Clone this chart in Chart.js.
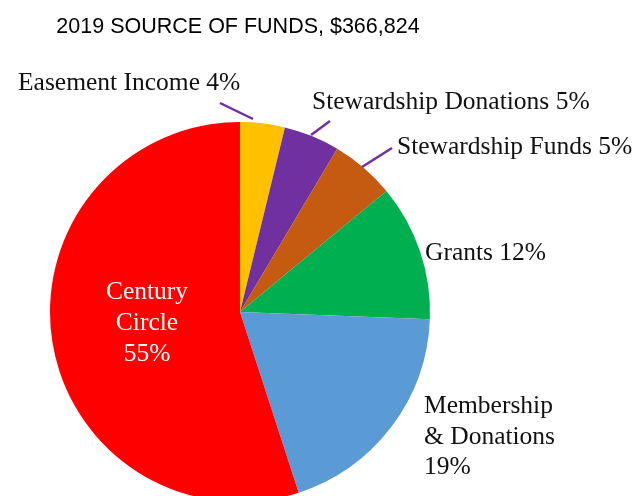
<!DOCTYPE html>
<html>
<head>
<meta charset="utf-8">
<script src="https://cdn.jsdelivr.net/npm/chart.js@4/dist/chart.umd.min.js"></script>
<style>
  html, body { margin: 0; padding: 0; background: #fff; overflow: hidden; }
  #wrap { width: 634px; height: 530px; position: relative; }
</style>
</head>
<body>
<div id="wrap"><canvas id="funds-chart" width="634" height="530"></canvas></div>
<script>
// Sumber dana 2019, dalam persen (dibaca dari sudut irisan)
const categories = ["Easement Income", "Stewardship Donations", "Stewardship Funds", "Grants", "Membership & Donations", "Century Circle"];
const shares = [3.8, 4.75, 5.45, 11.6, 19.4, 55.0];
const colors = ["#FFC000", "#7030A0", "#C55A11", "#00B050", "#5B9BD5", "#FF0000"];
const titleText = "2019 SOURCE OF FUNDS, $366,824";

const pct = (i) => `${Math.round(shares[i])}%`;

document.addEventListener("DOMContentLoaded", function () {
  const ctx = document.getElementById("funds-chart");

  // Plugin untuk judul, label dan garis penunjuk
  const labelPlugin = {
    id: "sliceLabels",
    afterDraw(chart) {
      const c = chart.ctx;
      c.save();

      // judul
      c.font = "21.5px 'Liberation Sans', Arial, sans-serif";
      c.fillStyle = "#000";
      c.textAlign = "center";
      c.textBaseline = "middle";
      c.fillText(titleText, 238, 27);

      // garis penunjuk
      c.strokeStyle = "#7030A0";
      c.lineWidth = 2.5;
      const leaders = [
        [220, 103, 253, 119],
        [330, 121, 311, 135],
        [392, 148, 362, 167],
      ];
      leaders.forEach(([x1, y1, x2, y2]) => {
        c.beginPath();
        c.moveTo(x1, y1);
        c.lineTo(x2, y2);
        c.stroke();
      });

      c.font = "25.5px 'Liberation Serif', 'Times New Roman', serif";
      c.textAlign = "left";
      c.fillStyle = "#111";
      c.fillText(`${categories[0]} ${pct(0)}`, 18, 83);
      c.fillText(`${categories[1]} ${pct(1)}`, 312, 102);
      c.fillText(`${categories[2]} ${pct(2)}`, 397, 147);
      c.fillText(`${categories[3]} ${pct(3)}`, 425, 253);
      c.fillText("Membership", 424, 406);
      c.fillText("& Donations", 424, 437);
      c.fillText(pct(4), 424, 467);

      c.textAlign = "center";
      c.fillStyle = "#fff";
      c.fillText("Century", 147, 292);
      c.fillText("Circle", 147, 323);
      c.fillText(pct(5), 147, 354);

      c.restore();
    },
  };

  new Chart(ctx, {
    type: "pie",
    data: {
      labels: categories,
      datasets: [
        {
          data: shares,
          backgroundColor: colors,
          borderWidth: 0,
        },
      ],
    },
    options: {
      responsive: false,
      animation: false,
      layout: {
        padding: { left: 50, right: 204, top: 122, bottom: 28 },
      },
      plugins: {
        legend: { display: false },
        tooltip: { enabled: false },
        title: { display: false },
      },
    },
    plugins: [labelPlugin],
  });
});
</script>
</body>
</html>
